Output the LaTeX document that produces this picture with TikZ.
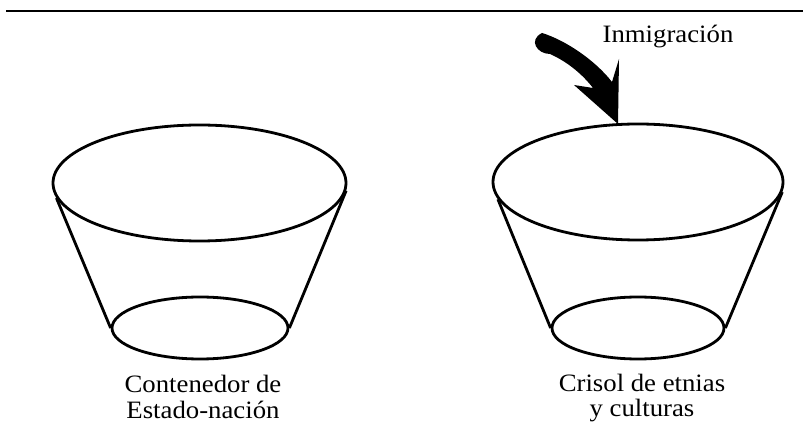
\documentclass[tikz,border=0pt]{standalone}
\usepackage{fontspec}
\setmainfont{Liberation Serif}[FakeStretch=1.07]
\usetikzlibrary{shapes.geometric}
\tikzset{
  cupline/.style={line width=2.8pt},
  rim/.style={ellipse, draw, line width=2.8pt, inner sep=0pt},
  lbl/.style={font=\fontsize{25}{25.5}\selectfont, align=center, anchor=base, inner sep=0pt}
}
\begin{document}
\begin{tikzpicture}[x=1pt,y=-1pt]
\useasboundingbox (0,0) rectangle (803,443);
% top rule
\coordinate (ruleL) at (6,11);
\coordinate (ruleR) at (803,11);
\draw[line width=1.8pt] (ruleL) -- (ruleR);
% left cup
\node[rim, minimum width=293pt, minimum height=116pt] (ltop) at (199.5,183) {};
\node[rim, minimum width=176pt, minimum height=62pt] (lbot) at (200,328) {};
\draw[cupline] (ltop.186) -- (lbot.west);
\draw[cupline] (ltop.357) -- (lbot.east);
\node[lbl] (ltext) at (203,418) {Contenedor de\\Estado-nación};
% right cup
\node[rim, minimum width=290pt, minimum height=116pt] (rtop) at (638,182) {};
\node[rim, minimum width=172pt, minimum height=62pt] (rbot) at (638,328) {};
\draw[cupline] (rtop.187) -- (rbot.west);
\draw[cupline] (rtop.356) -- (rbot.east);
\node[lbl] (rtext) at (642,417) {Crisol de etnias\\y culturas};
% immigration arrow
\node[lbl] (imm) at (668,43) {Inmigración};
\fill (542,33) .. controls (565,40) and (595,60) .. (612,82) -- (619,59) -- (618,124) -- (574,85) -- (593,88)
  .. controls (583,75) and (568,62) .. (550,54) .. controls (537,54) and (528,40) .. (542,33) -- cycle;
\end{tikzpicture}
\end{document}
